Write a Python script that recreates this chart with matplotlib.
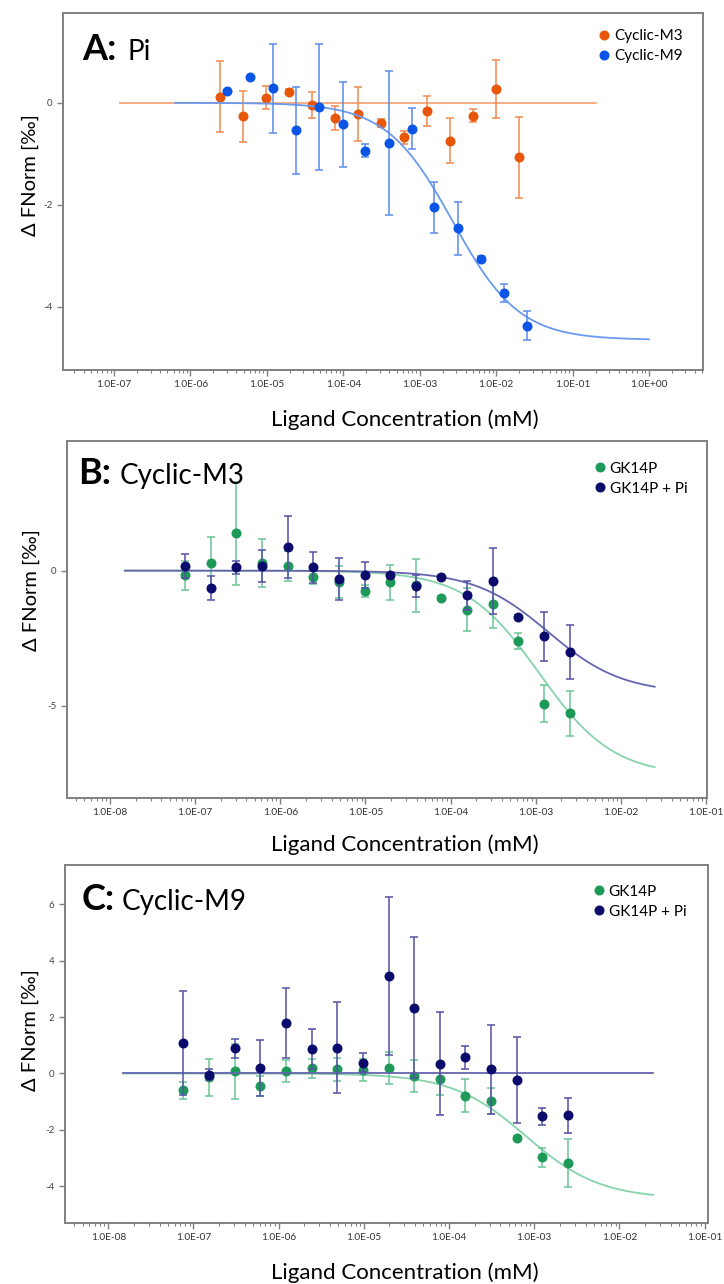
import numpy as np
import matplotlib
matplotlib.use('Agg')
import matplotlib.pyplot as plt
from matplotlib.lines import Line2D
from matplotlib.ticker import LogLocator, FixedLocator, FuncFormatter, NullFormatter

plt.rcParams['font.family'] = ['Lato', 'DejaVu Sans']

W, H = 724, 1284

# ---- Panel A: Pi ----
conc_m3 = [2.44e-06, 4.88e-06, 9.77e-06, 1.95e-05, 3.91e-05, 7.81e-05, 1.56e-04,
           3.13e-04, 6.25e-04, 1.25e-03, 2.50e-03, 5.00e-03, 1.00e-02, 2.00e-02]
m3_val = [0.12, -0.26, 0.10, 0.22, -0.04, -0.30, -0.22, -0.40, -0.68, -0.16, -0.74, -0.25, 0.27, -1.07]
m3_err = [0.70, 0.50, 0.22, 0.05, 0.25, 0.23, 0.52, 0.08, 0.13, 0.30, 0.44, 0.12, 0.57, 0.79]

conc_m9 = [3.05e-06, 6.10e-06, 1.22e-05, 2.44e-05, 4.88e-05, 9.77e-05, 1.95e-04,
           3.91e-04, 7.81e-04, 1.56e-03, 3.13e-03, 6.25e-03, 1.25e-02, 2.50e-02]
m9_val = [0.24, 0.50, 0.28, -0.54, -0.08, -0.42, -0.94, -0.79, -0.51, -2.05, -2.46, -3.06, -3.73, -4.37]
m9_err = [0.00, 0.00, 0.88, 0.85, 1.24, 0.83, 0.13, 1.41, 0.40, 0.50, 0.52, 0.05, 0.18, 0.29]

# ---- Panels B / C: same dilution series ----
conc_gk = [7.63e-08, 1.53e-07, 3.05e-07, 6.10e-07, 1.22e-06, 2.44e-06, 4.88e-06, 9.77e-06,
           1.95e-05, 3.91e-05, 7.81e-05, 1.56e-04, 3.13e-04, 6.25e-04, 1.25e-03, 2.50e-03]

gk_b_val = [-0.18, 0.30, 1.38, 0.28, 0.18, -0.22, -0.43, -0.76, -0.43, -0.55, -1.00, -1.44, -1.22, -2.62, -4.93, -5.28]
gk_b_err = [0.55, 0.94, 1.90, 0.90, 0.55, 0.27, 0.60, 0.22, 0.64, 0.98, 0.05, 0.80, 0.90, 0.30, 0.68, 0.83]
pi_b_val = [0.18, -0.64, 0.12, 0.16, 0.88, 0.12, -0.32, -0.16, -0.18, -0.57, -0.25, -0.92, -0.39, -1.70, -2.43, -3.03]
pi_b_err = [0.45, 0.43, 0.24, 0.59, 1.15, 0.57, 0.77, 0.47, 0.10, 0.41, 0.10, 0.53, 1.21, 0.05, 0.90, 1.00]

gk_c_val = [-0.59, -0.14, 0.08, -0.44, 0.09, 0.18, 0.14, 0.12, 0.18, -0.10, -0.21, -0.79, -0.98, -2.29, -2.98, -3.18]
gk_c_err = [0.30, 0.66, 0.98, 0.35, 0.38, 0.33, 0.40, 0.40, 0.57, 0.56, 0.55, 0.58, 0.45, 0.08, 0.33, 0.86]
pi_c_val = [1.08, -0.04, 0.89, 0.20, 1.78, 0.86, 0.92, 0.38, 3.46, 2.34, 0.35, 0.57, 0.14, -0.24, -1.52, -1.49]
pi_c_err = [1.85, 0.20, 0.33, 1.00, 1.24, 0.70, 1.62, 0.33, 2.80, 2.50, 1.82, 0.42, 1.58, 1.52, 0.31, 0.62]

# fit parameters (amplitude, Kd, range of fitted line)
m3_fit = (0.0, 1e-3, 1.2e-7, 0.2)
m9_fit = (-4.65, 2.7e-3, 6.3e-7, 1.0)
gk_b_fit = (-7.6, 1.1e-3, 1.5e-8, 2.5e-2)
pi_b_fit = (-4.54, 1.4e-3, 1.5e-8, 2.5e-2)
gk_c_fit = (-4.45, 8e-4, 1.5e-8, 2.5e-2)
pi_c_fit = (0.0, 1e-3, 1.5e-8, 2.5e-2)

# x tick decades shown on each panel
decades_a = [1e-7, 1e-6, 1e-5, 1e-4, 1e-3, 1e-2, 1e-1, 1e0]
decades_bc = [1e-8, 1e-7, 1e-6, 1e-5, 1e-4, 1e-3, 1e-2, 1e-1]

# colours: point, error bar, fit line
ORANGE = ('#E8560A', '#F08A50', '#F5A77A')
BLUE = ('#0A55E6', '#5B8CEB', '#6A9AF0')
GREEN = ('#1E9A58', '#6CC497', '#86D3AC')
NAVY = ('#0B0B6B', '#5252A6', '#6565AE')

GRAY = '#808080'


def draw_series(ax, conc, val, err, fit, cols, z):
    amp, kd, x0, x1 = fit
    xs = np.logspace(np.log10(x0), np.log10(x1), 300)
    ax.plot(xs, amp * xs / (xs + kd), color=cols[2], lw=1.3, zorder=z)
    ax.errorbar(conc, val, yerr=err, fmt='none', ecolor=cols[1], elinewidth=1.1,
                capsize=2.8, capthick=1.1, zorder=z + 1)
    ax.plot(conc, val, 'o', color=cols[0], ms=7.2, mec='none', zorder=z + 2)


def style_axes(ax, xlim, ylim, yticks, decades, xlab_pos, ylab_pos):
    ax.set_xscale('log')
    ax.set_xlim(xlim)
    ax.set_ylim(ylim)
    ax.set_yticks(yticks)
    ax.set_yticklabels([str(t) for t in yticks])
    ax.xaxis.set_major_locator(FixedLocator(decades))
    ax.xaxis.set_minor_locator(LogLocator(base=10, subs=np.arange(2, 10), numticks=20))
    ax.xaxis.set_major_formatter(FuncFormatter(lambda v, p: f'{v:.1E}'))
    ax.xaxis.set_minor_formatter(NullFormatter())
    for s in ax.spines.values():
        s.set_color(GRAY)
        s.set_linewidth(1.4)
    ax.tick_params(axis='x', which='major', length=4, width=1, color=GRAY,
                   labelsize=7.3, labelcolor='#333333', pad=3)
    ax.tick_params(axis='x', which='minor', length=2.5, width=0.8, color=GRAY)
    ax.tick_params(axis='y', which='major', length=4.5, width=1, color=GRAY,
                   labelsize=7, labelcolor='#444444', pad=3)
    ax.set_xlabel('Ligand Concentration (mM)', fontsize=16)
    ax.xaxis.set_label_coords(*xlab_pos)
    ax.set_ylabel('Δ FNorm [‰]', fontsize=14.5)
    ax.yaxis.set_label_coords(*ylab_pos)


def add_legend(ax, labels, cols, anchor):
    handles = [Line2D([], [], marker='o', ls='none', color=c[0], mec='none', ms=7.2) for c in cols]
    ax.legend(handles, labels, loc='upper left', bbox_to_anchor=anchor, frameon=False,
              fontsize=11, handlelength=0.6, handletextpad=0.35, labelspacing=0.4,
              borderpad=0, borderaxespad=0)


def panel_title(letter, name, x, y, x2):
    fig.text(x / W, 1 - y / H, letter, fontsize=26, fontweight='bold', va='baseline')
    fig.text(x2 / W, 1 - y / H, name, fontsize=20, va='baseline')


fig = plt.figure(figsize=(W / 100, H / 100), dpi=100)

axA = fig.add_axes([63 / W, 1 - 370 / H, 640 / W, 357 / H])
axB = fig.add_axes([67 / W, 1 - 798 / H, 639.5 / W, 357 / H])
axC = fig.add_axes([65 / W, 1 - 1223 / H, 643 / W, 358 / H])

draw_series(axA, conc_m3, m3_val, m3_err, m3_fit, ORANGE, 2)
draw_series(axA, conc_m9, m9_val, m9_err, m9_fit, BLUE, 5)
style_axes(axA, (10 ** -7.668, 10 ** 0.707), (-5.24, 1.76), [0, -2, -4], decades_a,
           (0.534, -0.109), (-0.037, 0.546))
add_legend(axA, ['Cyclic-M3', 'Cyclic-M9'], [ORANGE, BLUE], (0.838, 0.955))

draw_series(axB, conc_gk, gk_b_val, gk_b_err, gk_b_fit, GREEN, 2)
draw_series(axB, conc_gk, pi_b_val, pi_b_err, pi_b_fit, NAVY, 5)
style_axes(axB, (10 ** -8.505, 10 ** -0.994), (-8.42, 4.8), [0, -5], decades_bc,
           (0.529, -0.101), (-0.043, 0.583))
add_legend(axB, ['GK14P', 'GK14P + Pi'], [GREEN, NAVY], (0.826, 0.942))

draw_series(axC, conc_gk, gk_c_val, gk_c_err, gk_c_fit, GREEN, 2)
draw_series(axC, conc_gk, pi_c_val, pi_c_err, pi_c_fit, NAVY, 5)
style_axes(axC, (10 ** -8.508, 10 ** -0.96), (-5.31, 7.4), [-4, -2, 0, 2, 4, 6], decades_bc,
           (0.529, -0.109), (-0.040, 0.539))
add_legend(axC, ['GK14P', 'GK14P + Pi'], [GREEN, NAVY], (0.823, 0.945))

panel_title('A:', 'Pi', 82, 60, 128)
panel_title('B:', 'Cyclic-M3', 78, 484, 120)
panel_title('C:', 'Cyclic-M9', 82, 910, 122)

fig.savefig('out.png', dpi=100)
